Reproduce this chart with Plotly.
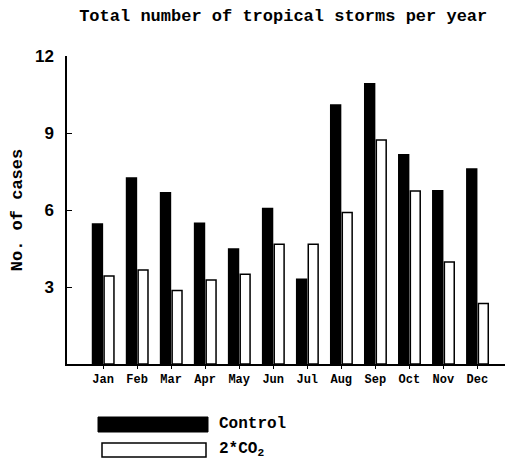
import plotly.graph_objects as go

months = ["Jan", "Feb", "Mar", "Apr", "May", "Jun", "Jul", "Aug", "Sep", "Oct", "Nov", "Dec"]
control = [5.45, 7.25, 6.67, 5.48, 4.48, 6.06, 3.30, 10.09, 10.92, 8.15, 6.75, 7.60]
co2 = [3.43, 3.66, 2.86, 3.27, 3.50, 4.67, 4.67, 5.90, 8.73, 6.74, 3.97, 2.36]
y_ticks = [3, 6, 9, 12]

mono = "Liberation Mono"

fig = go.Figure()
fig.add_trace(go.Bar(x=months, y=control, name="Control", width=0.29, offset=-0.31,
                     marker=dict(color="black", line=dict(color="black", width=1.5)),
                     showlegend=False))
fig.add_trace(go.Bar(x=months, y=co2, name="2*CO2", width=0.29, offset=0.03,
                     marker=dict(color="white", line=dict(color="black", width=1.5)),
                     showlegend=False))

# page has an 8px body margin; figure sized to fit the 513x459 window
fig.update_layout(
    width=505, height=451,
    margin=dict(l=59, r=5, t=48, b=95),
    plot_bgcolor="white", paper_bgcolor="white",
    barmode="overlay",
    title=dict(text="<b>Total number of tropical storms per year</b>",
               x=0.545, xanchor="center", y=1 - 7 / 451, yanchor="middle",
               font=dict(family=mono, size=17, color="black")),
    xaxis=dict(range=[-1.06, 11.9], showline=True, linecolor="black", linewidth=1.5,
               ticks="outside", ticklen=3, tickcolor="black",
               tickfont=dict(family=mono, size=12, color="black"),
               tickvals=months, ticktext=["<b>%s</b>" % m for m in months],
               showgrid=False, zeroline=False, fixedrange=True),
    yaxis=dict(range=[0, 12], showline=True, linecolor="black", linewidth=1.5,
               ticks="inside", ticklen=5, tickcolor="black",
               tickvals=y_ticks, ticktext=["<b>%d</b>" % v for v in y_ticks],
               tickfont=dict(family="Liberation Sans", size=17, color="black"),
               ticklabelstandoff=8,
               title=dict(text="<b>No. of cases</b>", standoff=8,
                          font=dict(family=mono, size=17, color="black")),
               showgrid=False, zeroline=False),
)

# legend drawn manually (wide swatches)
fig.add_shape(type="rect", xref="paper", yref="paper",
              x0=(98 - 67) / 441, x1=(208 - 67) / 441,
              y0=(364 - 432) / 308, y1=(364 - 417) / 308,
              fillcolor="black", line=dict(color="black", width=1))
fig.add_shape(type="rect", xref="paper", yref="paper",
              x0=(102 - 67) / 441, x1=(206 - 67) / 441,
              y0=(364 - 457) / 308, y1=(364 - 443) / 308,
              fillcolor="white", line=dict(color="black", width=1.5))
fig.add_annotation(xref="paper", yref="paper", x=(217 - 67) / 441, y=(364 - 424) / 308,
                   text="<b>Control</b>", showarrow=False, xanchor="left", yanchor="middle",
                   font=dict(family=mono, size=16, color="black"))
fig.add_annotation(xref="paper", yref="paper", x=(217 - 67) / 441, y=(364 - 449) / 308,
                   text="<b>2*CO<sub>2</sub></b>", showarrow=False, xanchor="left", yanchor="middle",
                   font=dict(family=mono, size=16, color="black"))

fig.write_html("out.html")
